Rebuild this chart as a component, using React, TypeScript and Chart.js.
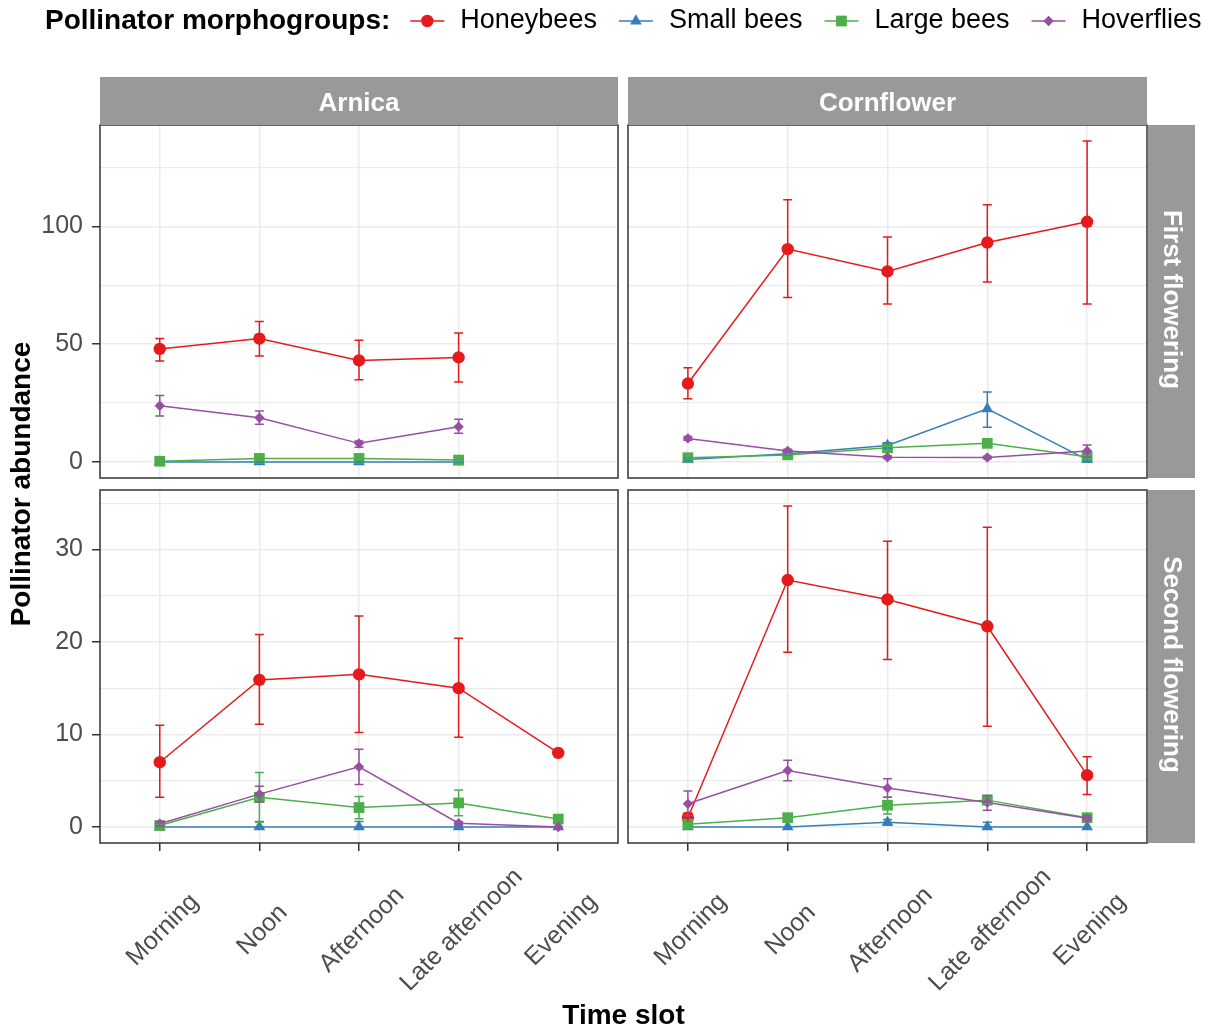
import React, { useEffect, useRef } from 'react';
import { Chart, registerables } from 'chart.js';

Chart.register(...registerables);

const FONT = "'Liberation Sans', Arial, Helvetica, sans-serif";
Chart.defaults.font.family = FONT;

// ---------- categories / labels ----------
const timeSlots = ['Morning', 'Noon', 'Afternoon', 'Late afternoon', 'Evening'];
const plants = ['Arnica', 'Cornflower'];
const periods = ['First flowering', 'Second flowering'];
const groups = ['Honeybees', 'Small bees', 'Large bees', 'Hoverflies'];
const groupColors = ['#E41A1C', '#377EB8', '#4DAF4A', '#984EA3'];
const groupShapes = ['circle', 'triangle', 'rect', 'rectRot'];
const groupRadius = [6.2, 6.8, 7.6, 5.2];

// ---------- y tick values ----------
const yMajorFirst = [0, 50, 100];
const yMinorFirst = [25, 75, 125];
const yMajorSecond = [0, 10, 20, 30];
const yMinorSecond = [5, 15, 25, 35];

// ---------- Arnica – first flowering ----------
const arnicaFirstHoneybees = [48.0, 52.4, 43.1, 44.4, null];
const arnicaFirstHoneybeesLo = [42.9, 45.0, 34.9, 34.0, null];
const arnicaFirstHoneybeesHi = [52.4, 59.7, 51.7, 54.8, null];
const arnicaFirstSmallBees = [0.0, 0.0, 0.0, 0.0, null];
const arnicaFirstSmallBeesLo = [0.0, 0.0, 0.0, 0.0, null];
const arnicaFirstSmallBeesHi = [0.6, 0.4, 0.3, 0.3, null];
const arnicaFirstLargeBees = [0.3, 1.5, 1.5, 0.8, null];
const arnicaFirstLargeBeesLo = [0.0, 0.6, 0.8, 0.3, null];
const arnicaFirstLargeBeesHi = [0.6, 2.4, 2.2, 1.3, null];
const arnicaFirstHoverflies = [23.9, 18.8, 7.9, 15.0, null];
const arnicaFirstHoverfliesLo = [19.5, 16.0, 6.2, 12.2, null];
const arnicaFirstHoverfliesHi = [28.2, 21.6, 8.9, 18.1, null];

// ---------- Cornflower – first flowering ----------
const cornflowerFirstHoneybees = [33.3, 90.4, 80.9, 93.2, 102.0];
const cornflowerFirstHoneybeesLo = [26.8, 69.9, 67.1, 76.4, 67.1];
const cornflowerFirstHoneybeesHi = [40.0, 111.4, 95.5, 109.2, 136.3];
const cornflowerFirstSmallBees = [1.0, 3.5, 7.0, 22.6, 1.0];
const cornflowerFirstSmallBeesLo = [0.5, 2.8, 5.8, 14.7, 0.4];
const cornflowerFirstSmallBeesHi = [1.5, 4.2, 8.2, 29.7, 1.6];
const cornflowerFirstLargeBees = [1.8, 3.0, 6.0, 7.9, 2.2];
const cornflowerFirstLargeBeesLo = [1.2, 2.3, 5.0, 6.9, 1.5];
const cornflowerFirstLargeBeesHi = [2.4, 3.7, 7.0, 8.9, 2.9];
const cornflowerFirstHoverflies = [10.0, 4.7, 2.0, 1.9, 4.7];
const cornflowerFirstHoverfliesLo = [9.2, 4.0, 1.5, 1.4, 2.0];
const cornflowerFirstHoverfliesHi = [10.8, 5.4, 2.5, 2.4, 7.2];

// ---------- Arnica – second flowering ----------
const arnicaSecondHoneybees = [7.0, 15.9, 16.5, 15.0, 8.0];
const arnicaSecondHoneybeesLo = [3.2, 11.1, 10.2, 9.7, null];
const arnicaSecondHoneybeesHi = [11.0, 20.8, 22.8, 20.4, null];
const arnicaSecondSmallBees = [0.0, 0.0, 0.0, 0.0, 0.0];
const arnicaSecondSmallBeesLo = [0.0, 0.0, 0.0, 0.0, null];
const arnicaSecondSmallBeesHi = [0.1, 0.6, 0.6, 0.2, null];
const arnicaSecondLargeBees = [0.15, 3.2, 2.1, 2.6, 0.85];
const arnicaSecondLargeBeesLo = [0.0, 0.5, 0.9, 1.2, null];
const arnicaSecondLargeBeesHi = [0.3, 5.9, 3.3, 4.0, null];
const arnicaSecondHoverflies = [0.35, 3.55, 6.5, 0.4, 0.0];
const arnicaSecondHoverfliesLo = [0.1, 2.7, 4.6, 0.2, null];
const arnicaSecondHoverfliesHi = [0.6, 4.4, 8.4, 0.6, null];

// ---------- Cornflower – second flowering ----------
const cornflowerSecondHoneybees = [1.0, 26.7, 24.6, 21.7, 5.6];
const cornflowerSecondHoneybeesLo = [0.5, 18.9, 18.1, 10.9, 3.5];
const cornflowerSecondHoneybeesHi = [1.5, 34.7, 30.9, 32.4, 7.6];
const cornflowerSecondSmallBees = [0.0, 0.0, 0.5, 0.0, 0.0];
const cornflowerSecondSmallBeesLo = [0.0, 0.0, 0.2, 0.0, 0.0];
const cornflowerSecondSmallBeesHi = [0.0, 0.0, 0.8, 0.5, 0.0];
const cornflowerSecondLargeBees = [0.3, 1.0, 2.35, 2.9, 1.0];
const cornflowerSecondLargeBeesLo = [0.1, 0.7, 1.4, 2.5, 0.7];
const cornflowerSecondLargeBeesHi = [0.5, 1.3, 3.2, 3.4, 1.3];
const cornflowerSecondHoverflies = [2.5, 6.1, 4.2, 2.65, 0.95];
const cornflowerSecondHoverfliesLo = [1.2, 5.0, 3.2, 1.8, 0.7];
const cornflowerSecondHoverfliesHi = [3.9, 7.2, 5.2, 3.4, 1.2];

type Series = [(number | null)[], (number | null)[], (number | null)[]];

const panelSeries: Series[][][] = [
  // row 0: first flowering
  [
    [
      [arnicaFirstHoneybees, arnicaFirstHoneybeesLo, arnicaFirstHoneybeesHi],
      [arnicaFirstSmallBees, arnicaFirstSmallBeesLo, arnicaFirstSmallBeesHi],
      [arnicaFirstLargeBees, arnicaFirstLargeBeesLo, arnicaFirstLargeBeesHi],
      [arnicaFirstHoverflies, arnicaFirstHoverfliesLo, arnicaFirstHoverfliesHi],
    ],
    [
      [cornflowerFirstHoneybees, cornflowerFirstHoneybeesLo, cornflowerFirstHoneybeesHi],
      [cornflowerFirstSmallBees, cornflowerFirstSmallBeesLo, cornflowerFirstSmallBeesHi],
      [cornflowerFirstLargeBees, cornflowerFirstLargeBeesLo, cornflowerFirstLargeBeesHi],
      [cornflowerFirstHoverflies, cornflowerFirstHoverfliesLo, cornflowerFirstHoverfliesHi],
    ],
  ],
  // row 1: second flowering
  [
    [
      [arnicaSecondHoneybees, arnicaSecondHoneybeesLo, arnicaSecondHoneybeesHi],
      [arnicaSecondSmallBees, arnicaSecondSmallBeesLo, arnicaSecondSmallBeesHi],
      [arnicaSecondLargeBees, arnicaSecondLargeBeesLo, arnicaSecondLargeBeesHi],
      [arnicaSecondHoverflies, arnicaSecondHoverfliesLo, arnicaSecondHoverfliesHi],
    ],
    [
      [cornflowerSecondHoneybees, cornflowerSecondHoneybeesLo, cornflowerSecondHoneybeesHi],
      [cornflowerSecondSmallBees, cornflowerSecondSmallBeesLo, cornflowerSecondSmallBeesHi],
      [cornflowerSecondLargeBees, cornflowerSecondLargeBeesLo, cornflowerSecondLargeBeesHi],
      [cornflowerSecondHoverflies, cornflowerSecondHoverfliesLo, cornflowerSecondHoverfliesHi],
    ],
  ],
];

const yMajor = [yMajorFirst, yMajorSecond];
const yMinor = [yMinorFirst, yMinorSecond];

// ---------- layout ----------
const W = 1210;
const H = 1032;
const colLeft = [100, 628];
const colRight = [618, 1147];
const rowTop = [125, 490];
const rowBottom = [478, 843];
const stripSize = 48;
const rightStripW = 47;
const STRIP_BG = '#999999';
const BORDER = '#333333';
const GRID = '#EBEBEB';
const TICK_TEXT = '#4D4D4D';

function rowRange(r: number) {
  let mx = 0;
  let mn = 0;
  panelSeries[r].forEach((col) =>
    col.forEach(([m, lo, hi]) => {
      [...m, ...lo, ...hi].forEach((v) => {
        if (v != null) {
          mx = Math.max(mx, v);
          mn = Math.min(mn, v);
        }
      });
    })
  );
  const e = (mx - mn) * 0.05;
  return { min: mn - e, max: mx + e };
}

function drawMarker(ctx: CanvasRenderingContext2D, shape: string, x: number, y: number, r: number) {
  ctx.beginPath();
  if (shape === 'circle') {
    ctx.arc(x, y, r, 0, Math.PI * 2);
  } else if (shape === 'triangle') {
    for (let k = 0; k < 3; k++) {
      const a = (k * 2 * Math.PI) / 3;
      const px = x + Math.sin(a) * r;
      const py = y - Math.cos(a) * r;
      if (k === 0) ctx.moveTo(px, py);
      else ctx.lineTo(px, py);
    }
    ctx.closePath();
  } else if (shape === 'rect') {
    const s = r * Math.SQRT1_2;
    ctx.rect(x - s, y - s, 2 * s, 2 * s);
  } else {
    ctx.moveTo(x, y - r);
    ctx.lineTo(x + r, y);
    ctx.lineTo(x, y + r);
    ctx.lineTo(x - r, y);
    ctx.closePath();
  }
  ctx.fill();
}

const decoPlugin = {
  id: 'facetDeco',
  afterDatasetsDraw(chart: any) {
    const { ctx } = chart;
    const xs = chart.scales.x;
    const ys = chart.scales.y;
    const dsList = chart.data.datasets;
    for (let d = 0; d < dsList.length; d++) {
      const ds = dsList[d];
      ctx.save();
      ctx.strokeStyle = ds.borderColor;
      ctx.lineWidth = 1.5;
      ds.errLo.forEach((lo: number | null, i: number) => {
        const hi = ds.errHi[i];
        if (lo == null || hi == null || hi - lo < 0.05) return;
        const px = xs.getPixelForValue(i + 1);
        const hw = xs.getPixelForValue(i + 1 + 0.045) - px;
        const y1 = ys.getPixelForValue(lo);
        const y2 = ys.getPixelForValue(hi);
        ctx.beginPath();
        ctx.moveTo(px, y1);
        ctx.lineTo(px, y2);
        ctx.moveTo(px - hw, y1);
        ctx.lineTo(px + hw, y1);
        ctx.moveTo(px - hw, y2);
        ctx.lineTo(px + hw, y2);
        ctx.stroke();
      });
      ctx.restore();
    }
  },
  afterDraw(chart: any) {
    const { ctx, chartArea: a } = chart;
    const o = chart.options.plugins.facetDeco;
    const { row, col } = o;
    ctx.save();
    // panel border
    ctx.strokeStyle = BORDER;
    ctx.lineWidth = 1.5;
    ctx.strokeRect(a.left, a.top, a.right - a.left, a.bottom - a.top);

    // top strip
    if (row === 0) {
      ctx.fillStyle = STRIP_BG;
      ctx.fillRect(a.left, a.top - stripSize, a.right - a.left, stripSize);
      ctx.fillStyle = '#FFFFFF';
      ctx.font = `bold 26px ${FONT}`;
      ctx.textAlign = 'center';
      ctx.textBaseline = 'middle';
      ctx.fillText(plants[col], (a.left + a.right) / 2, a.top - stripSize / 2 + 3);
    }
    // right strip
    if (col === 1) {
      ctx.fillStyle = STRIP_BG;
      ctx.fillRect(a.right + 1, a.top, rightStripW, a.bottom - a.top);
      ctx.save();
      ctx.translate(a.right + 1 + rightStripW / 2, (a.top + a.bottom) / 2);
      ctx.rotate(Math.PI / 2);
      ctx.fillStyle = '#FFFFFF';
      ctx.font = `bold 26px ${FONT}`;
      ctx.textAlign = 'center';
      ctx.textBaseline = 'middle';
      ctx.fillText(periods[row], -2, 0);
      ctx.restore();
    }
    // rotated x tick labels
    if (row === 1) {
      const xs = chart.scales.x;
      ctx.fillStyle = TICK_TEXT;
      ctx.font = `25px ${FONT}`;
      ctx.textAlign = 'center';
      ctx.textBaseline = 'middle';
      timeSlots.forEach((lab, i) => {
        const px = xs.getPixelForValue(i + 1);
        ctx.save();
        ctx.translate(px + 3, a.bottom + 87);
        ctx.rotate(-Math.PI / 4);
        ctx.fillText(lab, 0, 0);
        ctx.restore();
      });
    }
    // global decorations (drawn once)
    if (row === 0 && col === 0) {
      // y axis title
      ctx.save();
      ctx.translate(22, (rowTop[0] + rowBottom[1]) / 2);
      ctx.rotate(-Math.PI / 2);
      ctx.fillStyle = '#000000';
      ctx.font = `bold 28px ${FONT}`;
      ctx.textAlign = 'center';
      ctx.textBaseline = 'middle';
      ctx.fillText('Pollinator abundance', 0, 0);
      ctx.restore();
      // x axis title
      ctx.fillStyle = '#000000';
      ctx.font = `bold 28px ${FONT}`;
      ctx.textAlign = 'center';
      ctx.textBaseline = 'middle';
      ctx.fillText('Time slot', (colLeft[0] + colRight[1]) / 2, 1016);
      // legend
      const ly = 21;
      let lx = 45;
      ctx.textAlign = 'left';
      ctx.font = `bold 28px ${FONT}`;
      ctx.fillText('Pollinator morphogroups:', lx, ly);
      lx += ctx.measureText('Pollinator morphogroups:').width + 20;
      ctx.font = `27px ${FONT}`;
      groups.forEach((g, gi) => {
        ctx.strokeStyle = groupColors[gi];
        ctx.fillStyle = groupColors[gi];
        ctx.lineWidth = 1.5;
        ctx.beginPath();
        ctx.moveTo(lx, ly);
        ctx.lineTo(lx + 34, ly);
        ctx.stroke();
        drawMarker(ctx, groupShapes[gi], lx + 17, ly, groupRadius[gi]);
        lx += 34 + 16;
        ctx.fillStyle = '#000000';
        ctx.fillText(g, lx, ly);
        lx += ctx.measureText(g).width + 22;
      });
    }
    ctx.restore();
  },
};

function buildConfig(row: number, col: number): any {
  const { min, max } = rowRange(row);
  const major = yMajor[row];
  const ticks = [...major, ...yMinor[row]].sort((p, q) => p - q);
  const isLeft = col === 0;
  const isBottom = row === 1;
  const datasets = groups.map((g, gi) => {
    const [m, lo, hi] = panelSeries[row][col][gi];
    return {
      label: g,
      data: m.map((v, i) => ({ x: i + 1, y: v })),
      errLo: lo,
      errHi: hi,
      borderColor: groupColors[gi],
      backgroundColor: groupColors[gi],
      borderWidth: 1.5,
      pointStyle: groupShapes[gi],
      pointRadius: groupRadius[gi],
      pointHoverRadius: groupRadius[gi],
      pointBorderWidth: 0,
      pointBackgroundColor: groupColors[gi],
      tension: 0,
      spanGaps: false,
      order: groups.length - 1 - gi,
    };
  });
  return {
    type: 'line',
    data: { datasets },
    plugins: [decoPlugin],
    options: {
      responsive: false,
      animation: false,
      devicePixelRatio: 1,
      events: [],
      layout: {
        padding: {
          left: isLeft ? 0 : colLeft[col],
          right: W - colRight[col],
          top: rowTop[row],
          bottom: isBottom ? 0 : H - rowBottom[row],
        },
      },
      plugins: {
        legend: { display: false },
        tooltip: { enabled: false },
        title: { display: false },
        facetDeco: { row, col },
      },
      scales: {
        x: {
          type: 'linear',
          min: 0.4,
          max: timeSlots.length + 0.6,
          afterBuildTicks: (s: any) => {
            s.ticks = timeSlots.map((_, i) => ({ value: i + 1 }));
          },
          afterFit: (s: any) => {
            s.height = isBottom ? H - rowBottom[row] : 0;
          },
          ticks: { display: false },
          grid: {
            color: GRID,
            lineWidth: 1.5,
            drawTicks: isBottom,
            tickLength: 8,
            tickColor: BORDER,
            tickWidth: 1.5,
          },
          border: { display: false },
        },
        y: {
          type: 'linear',
          min,
          max,
          afterBuildTicks: (s: any) => {
            s.ticks = ticks.map((v) => ({ value: v }));
          },
          afterFit: (s: any) => {
            s.width = isLeft ? colLeft[0] : 0;
          },
          ticks: {
            display: isLeft,
            autoSkip: false,
            padding: 9,
            color: TICK_TEXT,
            font: { size: 25, family: FONT },
            callback: (v: number) => (major.includes(v) ? String(v) : ''),
          },
          grid: {
            color: GRID,
            lineWidth: (c: any) => (c.tick && major.includes(c.tick.value) ? 1.5 : 1.2),
            drawTicks: isLeft,
            tickLength: 8,
            tickColor: (c: any) => (c.tick && major.includes(c.tick.value) ? BORDER : 'rgba(0,0,0,0)'),
            tickWidth: 1.5,
          },
          border: { display: false },
        },
      },
    },
  };
}

function FacetPanel({ row, col }: { row: number; col: number }) {
  const ref = useRef<HTMLCanvasElement | null>(null);
  useEffect(() => {
    if (!ref.current) return;
    const chart = new Chart(ref.current, buildConfig(row, col));
    return () => chart.destroy();
  }, [row, col]);
  return (
    <canvas
      ref={ref}
      width={W}
      height={H}
      style={{ position: 'absolute', left: 0, top: 0, width: W, height: H }}
    />
  );
}

export default function App() {
  return (
    <div
      style={{
        position: 'absolute',
        left: 0,
        top: 0,
        width: W,
        height: H,
        background: '#FFFFFF',
        overflow: 'hidden',
      }}
    >
      <FacetPanel row={0} col={0} />
      <FacetPanel row={0} col={1} />
      <FacetPanel row={1} col={0} />
      <FacetPanel row={1} col={1} />
    </div>
  );
}
